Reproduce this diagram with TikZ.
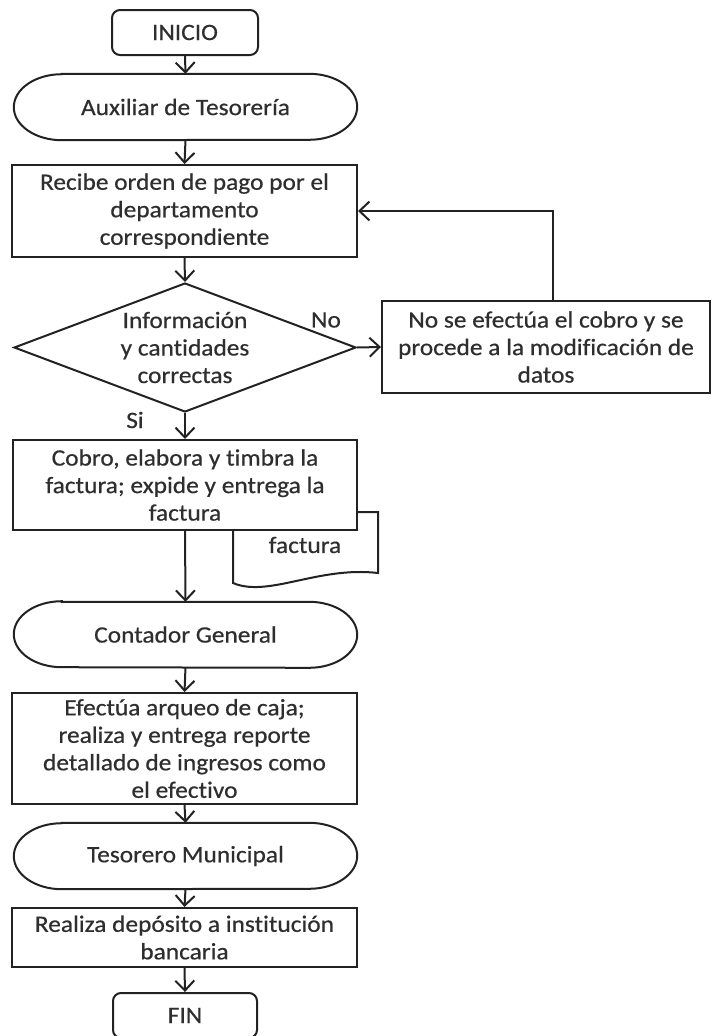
\documentclass[tikz,border=0pt]{standalone}
\usepackage{fontspec}
\setmainfont{Carlito}[FakeStretch=1.08,FakeBold=0.5,Ligatures=NoCommon]
\usetikzlibrary{shapes.geometric,arrows.meta,calc}

\definecolor{ink}{HTML}{222222}
\definecolor{txt}{HTML}{2e2e2e}

% stadium-shaped terminator drawn around a named node
\newcommand\termshape[1]{%
  \draw[outline] ($(#1.north west)+(48pt,0)$) -- ($(#1.north east)+(-48pt,0)$)
    arc[start angle=90,end angle=-90,x radius=48pt,y radius=33pt]
    -- ($(#1.south west)+(48pt,0)$)
    arc[start angle=270,end angle=90,x radius=48pt,y radius=33pt] -- cycle;}

\begin{document}
\begin{tikzpicture}[x=1pt,y=1pt,
  font=\fontsize{23.5pt}{27.5pt}\selectfont,
  every node/.style={text=txt},
  outline/.style={draw=ink,line width=2pt},
  stepbox/.style={outline,fill=white,align=center,inner sep=0pt,
    minimum width=345pt},
  endbox/.style={outline,rounded corners=8pt,align=center,inner sep=0pt,
    minimum width=146pt,minimum height=45pt},
  term/.style={align=center,inner sep=0pt,minimum width=343pt,minimum height=66pt},
  decision/.style={outline,shape=diamond,inner sep=0pt,
    minimum width=342pt,minimum height=129pt},
  arr/.style={draw=ink,line width=2pt,-{Straight Barb[length=10pt,width=19pt,line width=2pt]}},
  lbl/.style={inner sep=0pt}]

\useasboundingbox (0,0) rectangle (712,-1036);

% printed invoice document, partly behind the billing step
\draw[outline,fill=white] (233,-512) -- (233,-583)
  .. controls (268,-598) and (318,-566) .. (378,-573) -- (378,-512) -- cycle;
\node[lbl] (doc) at (305,-545) {factura};

\node[endbox] (inicio) at (185,-32.5) {INICIO};
\node[term] (aux) at (185.5,-107) {Auxiliar de Tesorería};
\termshape{aux}
\node[stepbox,minimum height=92pt] (recibe) at (184.5,-211)
  {Recibe orden de pago por el\\departamento\\correspondiente};
\node[decision] (dec) at (185,-347.5) {};
\node[lbl,align=center] (dectext) at (dec.center) {Información\\y cantidades\\correctas};
\node[stepbox,minimum width=328pt,minimum height=92pt] (nobox) at (546,-347)
  {No se efectúa el cobro y se\\procede a la modificación de\\datos};
\node[stepbox,minimum width=344pt,minimum height=90pt] (cobro) at (185,-485)
  {Cobro, elabora y timbra la\\factura; expide y entrega la\\factura};
\node[term,minimum height=65pt] (contador) at (185.5,-634.5) {Contador General};
\termshape{contador}
\node[stepbox,minimum height=111pt] (efectua) at (184.5,-748.5)
  {Efectúa arqueo de caja;\\realiza y entrega reporte\\detallado de ingresos como\\el efectivo};
\node[term] (tesorero) at (185.5,-856) {Tesorero Municipal};
\termshape{tesorero}
\node[stepbox,minimum height=59pt] (realiza) at (184.5,-937.5)
  {Realiza depósito a institución\\bancaria};
\node[endbox,minimum width=144pt] (fin) at (185,-1015.5) {FIN};

% branch labels
\node[lbl] (no) at (326,-320) {No};
\node[lbl] (si) at (135,-420) {Si};

% connectors
\draw[arr] (inicio.south) -- (aux.north);
\draw[arr] (aux.south) -- (recibe.north);
\draw[arr] (recibe.south) -- (dec.north);
\draw[arr] (dec.east) -- (nobox.west);
\draw[arr] ([xshift=7pt]nobox.north) |- (recibe.east);
\draw[arr] (dec.south) -- (cobro.north);
\draw[arr] (cobro.south) -- (contador.north);
\draw[arr] (contador.south) -- (efectua.north);
\draw[arr] (efectua.south) -- (tesorero.north);
\draw[arr] (tesorero.south) -- (realiza.north);
\draw[arr] (realiza.south) -- (fin.north);
\end{tikzpicture}
\end{document}
